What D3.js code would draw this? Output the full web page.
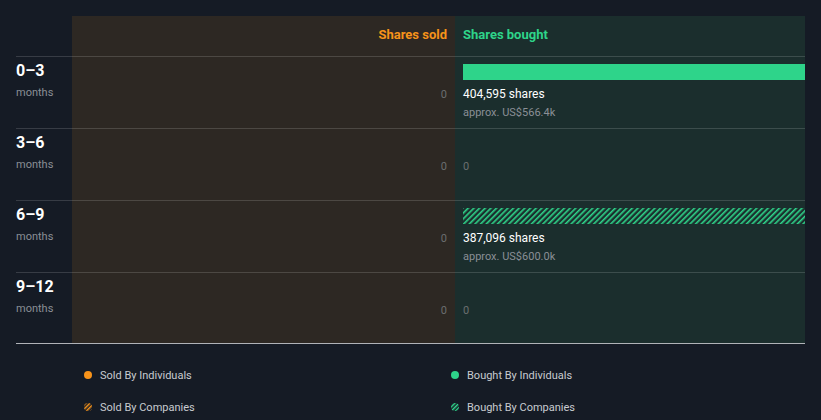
<!DOCTYPE html>
<html><head><meta charset="utf-8">
<script src="https://cdn.jsdelivr.net/npm/d3@7"></script>
<style>
html,body{margin:0;padding:0;background:#151b25;}
svg{display:block;font-family:Roboto,"Open Sans",sans-serif;}
</style></head>
<body><div id="chart"></div>
<script>
const periods = ["0–3","3–6","6–9","9–12"];
const periodUnit = "months";
const soldShares = [0,0,0,0];
const boughtShares = [404595,0,387096,0];
const boughtValue = ["US$566.4k","","US$600.0k",""];
const boughtByCompany = [false,false,true,false];
const legendItems = ["Sold By Individuals","Bought By Individuals","Sold By Companies","Bought By Companies"];

(function(){
const W=821,H=420;
const svg=d3.select("#chart").append("svg").attr("width",W).attr("height",H);
const defs=svg.append("defs");
function hatch(id,color,bg,size,sw){
  const p=defs.append("pattern").attr("id",id).attr("patternUnits","userSpaceOnUse")
    .attr("width",size).attr("height",size).attr("patternTransform","rotate(45)");
  p.append("rect").attr("width",size).attr("height",size).attr("fill",bg);
  p.append("rect").attr("width",sw).attr("height",size).attr("fill",color);
}
hatch("hatchG","#2ed48a","#1b2e2d",4,1.6);
hatch("hatchGL","#2ed48a","#151b25",3,1.5);
hatch("hatchOL","#f7931a","#151b25",3,1.5);

const mLeft=16,panelL=72,mid=455,mRight=805,mTop=16,headerB=56,mBottom=343;
const y=d3.scaleBand().domain(periods).range([headerB,mBottom+1]);
const x=d3.scaleLinear().domain([0,380000]).range([mid+8,mRight]).clamp(true);

svg.append("rect").attr("x",panelL).attr("y",mTop).attr("width",mid-panelL).attr("height",mBottom-mTop).attr("fill","#2d2823");
svg.append("rect").attr("x",mid).attr("y",mTop).attr("width",mRight-mid).attr("height",mBottom-mTop).attr("fill","#1b2e2d");

svg.append("text").attr("x",mid-8).attr("y",39).attr("text-anchor","end").attr("fill","#f7931a")
  .attr("font-size",13).attr("font-weight",700).text("Shares sold");
svg.append("text").attr("x",mid+8).attr("y",39).attr("fill","#2ed48a")
  .attr("font-size",13).attr("font-weight",700).text("Shares bought");

const rows=svg.selectAll("g.row").data(periods).enter().append("g").attr("class","row")
  .attr("transform",d=>`translate(0,${Math.round(y(d))})`);
rows.append("line").attr("x1",mLeft).attr("x2",mRight).attr("y1",0.5).attr("y2",0.5)
  .attr("stroke","#ffffff").attr("stroke-opacity",0.15);
rows.append("text").attr("x",mLeft).attr("y",20).attr("fill","#ffffff").attr("font-size",16).attr("font-weight",700).text(d=>d);
rows.append("text").attr("x",mLeft).attr("y",40).attr("fill","#8a8f96").attr("font-size",11).text(periodUnit);

rows.each(function(d,i){
  const g=d3.select(this);
  g.append("text").attr("x",mid-8).attr("y",42).attr("text-anchor","end").attr("fill","#6b6e70").attr("font-size",11).text(soldShares[i]);
  if(boughtShares[i]>0){
    g.append("rect").attr("x",x(0)).attr("y",8).attr("width",x(boughtShares[i])-x(0)).attr("height",16)
      .attr("fill",boughtByCompany[i]?"url(#hatchG)":"#2ed48a");
    g.append("text").attr("x",mid+8).attr("y",42).attr("fill","#ffffff").attr("font-size",12)
      .text(d3.format(",")(boughtShares[i])+" shares");
    g.append("text").attr("x",mid+8).attr("y",60).attr("fill","#8a8f96").attr("font-size",11)
      .text("approx. "+boughtValue[i]);
  } else {
    g.append("text").attr("x",mid+8).attr("y",42).attr("fill","#6b6e70").attr("font-size",11).text(boughtShares[i]);
  }
});

svg.append("line").attr("x1",mLeft).attr("x2",mRight).attr("y1",mBottom+0.5).attr("y2",mBottom+0.5).attr("stroke","#b0b3b8");

const lg=[{x:88,y:375,fill:"#f7931a"},{x:455,y:375,fill:"#2ed48a"},{x:88,y:407,fill:"url(#hatchOL)"},{x:455,y:407,fill:"url(#hatchGL)"}];
legendItems.forEach((t,i)=>{
  const p=lg[i];
  svg.append("circle").attr("cx",p.x).attr("cy",p.y).attr("r",4).attr("fill",p.fill);
  svg.append("text").attr("x",p.x+12).attr("y",p.y+4).attr("fill","#c8cbd0").attr("font-size",11).text(t);
});
})();
</script></body></html>
